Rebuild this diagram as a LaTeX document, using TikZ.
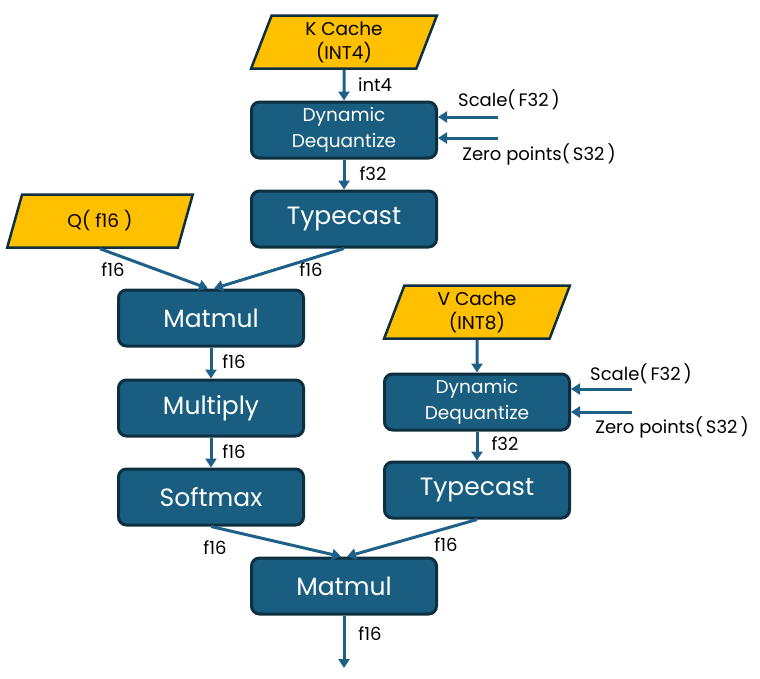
\documentclass[tikz,border=0pt]{standalone}
\usepackage{fontspec}
\setmainfont{Poppins}
\usetikzlibrary{shapes.geometric,arrows.meta}
\definecolor{opblue}{HTML}{195E80}
\definecolor{opedge}{HTML}{0E2F3F}
\definecolor{flowblue}{HTML}{1F6088}
\definecolor{cachegold}{HTML}{FFC000}

\begin{document}
\begin{tikzpicture}
  [x=1pt,y=-1pt,
   op/.style={rectangle,rounded corners=8pt,draw=opedge,line width=3pt,fill=opblue,
     text=white,minimum width=185pt,minimum height=56pt,align=center,
     font=\fontsize{25}{28}\selectfont},
   deq/.style={op,font=\fontsize{18.5}{26}\selectfont},
   data/.style={trapezium,trapezium left angle=76,trapezium right angle=104,
     trapezium stretches=true,draw=opedge,line width=2.5pt,fill=cachegold,
     minimum width=186pt,minimum height=53pt,align=center,
     font=\fontsize{18.5}{24}\selectfont},
   flow/.style={draw=flowblue,line width=3pt,-{Triangle[width=11pt,length=9pt]}},
   lbl/.style={font=\fontsize{18}{20}\selectfont,inner sep=0pt}]
  \useasboundingbox (0,0) rectangle (760,678);

  \node[data] (kc) at (344,42) {K Cache\\(INT4)};
  \node[deq] (deqK) at (344,130) {Dynamic\\Dequantize};
  \node[op] (castK) at (344,219) {Typecast};
  \node[data] (q) at (100,221) {Q( f16 )};
  \node[op] (matA) at (211,318) {Matmul};
  \node[op] (mul) at (211,408) {Multiply};
  \node[op] (soft) at (211,497) {Softmax};
  \node[data] (vc) at (477,312) {V Cache\\(INT8)};
  \node[deq] (deqV) at (477,402) {Dynamic\\Dequantize};
  \node[op] (castV) at (477,490) {Typecast};
  \node[op] (matB) at (344,586) {Matmul};

  \coordinate (sclK) at (498,117);
  \coordinate (zpK) at (498,138);
  \coordinate (sclV) at (632,389);
  \coordinate (zpV) at (632,412);
  \coordinate (out) at (344,668);

  \foreach \from/\to in {kc/deqK, deqK/castK, matA/mul, mul/soft,
    vc/deqV, deqV/castV, matB/out}
    \draw[flow] (\from) -- (\to);

  \draw[flow] (q.south) -- ([xshift=-3pt]matA.north);
  \draw[flow] (castK.south) -- ([xshift=3pt]matA.north);
  \draw[flow] (soft.south) -- ([xshift=-3pt]matB.north);
  \draw[flow] (castV.south) -- ([xshift=3pt]matB.north);

  \foreach \src/\dst in {sclK/deqK, zpK/deqK, sclV/deqV, zpV/deqV}
    \draw[flow] (\src) -- (\src -| \dst.east);

  \node[lbl] (l1) at (375,85) {int4};
  \node[lbl] (l2) at (373,174) {f32};
  \node[lbl] (l3) at (113,270) {f16};
  \node[lbl] (l4) at (311,270) {f16};
  \node[lbl] (l5) at (234,362) {f16};
  \node[lbl] (l6) at (234,452) {f16};
  \node[lbl] (l7) at (505,444) {f32};
  \node[lbl] (l8) at (215,548) {f16};
  \node[lbl] (l9) at (446,545) {f16};
  \node[lbl] (l10) at (370,634) {f16};

  \node[lbl] (sclKt) at (509,100) {Scale(\,F32\,)};
  \node[lbl] (zpKt) at (539,154) {Zero points(\,S32\,)};
  \node[lbl] (sclVt) at (641,374) {Scale(\,F32\,)};
  \node[lbl] (zpVt) at (672,427) {Zero points(\,S32\,)};
\end{tikzpicture}
\end{document}
